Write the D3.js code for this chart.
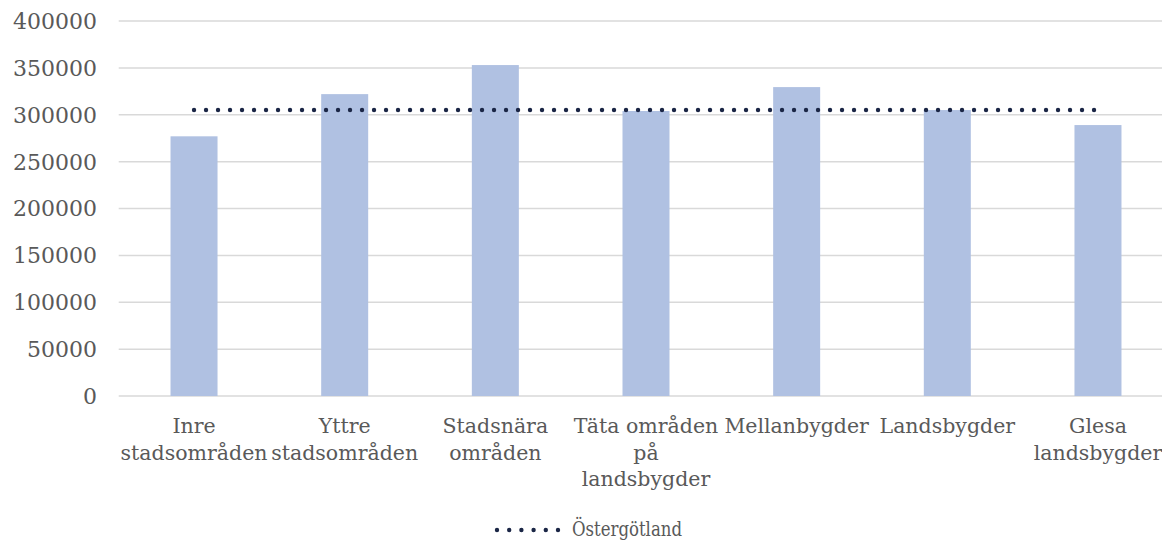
<!DOCTYPE html>
<html>
<head>
<meta charset="utf-8">
<script src="https://cdn.jsdelivr.net/npm/d3@7"></script>
<style>
  html, body { margin: 0; padding: 0; background: #fff; }
  svg { display: block; }
  text { font-family: "DejaVu Serif", serif; fill: #595959; }
  .legend-label { font-family: "DejaVu Serif Condensed", "DejaVu Serif", serif; font-stretch: condensed; }
</style>
</head>
<body>
<svg id="chart" width="1162" height="542"></svg>
<script>
// Categories (each entry is the list of wrapped label lines)
const categories = [
  ["Inre", "stadsområden"],
  ["Yttre", "stadsområden"],
  ["Stadsnära", "områden"],
  ["Täta områden", "på", "landsbygder"],
  ["Mellanbygder"],
  ["Landsbygder"],
  ["Glesa", "landsbygder"]
];
// Bar values per area type
const values = [277000, 322000, 353000, 304000, 329500, 305000, 289000];
// Regional reference level
const regionName = "Östergötland";
const regionValue = 305000;
// Y axis ticks
const yTicks = [0, 50000, 100000, 150000, 200000, 250000, 300000, 350000, 400000];

const svg = d3.select("#chart");
const plotLeft = 118.7, plotRight = 1173.3, plotTop = 21, plotBottom = 396;

const x = d3.scaleBand()
  .domain(d3.range(categories.length))
  .range([plotLeft, plotRight])
  .paddingInner(0.688)
  .paddingOuter(0.344);

const y = d3.scaleLinear().domain([0, 400000]).range([plotBottom, plotTop]);

// Gridlines
svg.append("g")
  .selectAll("line")
  .data(yTicks)
  .join("line")
  .attr("x1", plotLeft)
  .attr("x2", plotRight)
  .attr("y1", d => y(d))
  .attr("y2", d => y(d))
  .attr("stroke", "#d9d9d9")
  .attr("stroke-width", 1.5);

// Y tick labels
svg.append("g")
  .selectAll("text")
  .data(yTicks)
  .join("text")
  .attr("x", 97)
  .attr("y", d => y(d))
  .attr("dy", "0.36em")
  .attr("text-anchor", "end")
  .attr("font-size", 22)
  .text(d => d);

// Bars
svg.append("g")
  .selectAll("rect")
  .data(values)
  .join("rect")
  .attr("x", (d, i) => x(i))
  .attr("width", x.bandwidth())
  .attr("y", d => y(d))
  .attr("height", d => y(0) - y(d))
  .attr("fill", "#b0c1e2");

// Regional level as a dotted line across category centres
const xc = i => x(i) + x.bandwidth() / 2;
svg.append("line")
  .attr("x1", xc(0))
  .attr("x2", xc(categories.length - 1))
  .attr("y1", y(regionValue))
  .attr("y2", y(regionValue))
  .attr("stroke", "#1b2646")
  .attr("stroke-width", 4.4)
  .attr("stroke-linecap", "round")
  .attr("stroke-dasharray", "0 12");

// Category labels
const labels = svg.append("g")
  .selectAll("text")
  .data(categories)
  .join("text")
  .attr("text-anchor", "middle")
  .attr("font-size", 20.5)
  .attr("x", (d, i) => xc(i))
  .attr("y", 433);
labels.selectAll("tspan")
  .data(d => d)
  .join("tspan")
  .attr("x", function () { return d3.select(this.parentNode).attr("x"); })
  .attr("dy", (d, i) => i === 0 ? 0 : 26.5)
  .text(d => d);

// Legend
const legend = svg.append("g");
legend.append("line")
  .attr("x1", 497)
  .attr("x2", 558)
  .attr("y1", 530)
  .attr("y2", 530)
  .attr("stroke", "#1b2646")
  .attr("stroke-width", 4.4)
  .attr("stroke-linecap", "round")
  .attr("stroke-dasharray", "0 12.2");
legend.append("text")
  .attr("class", "legend-label")
  .attr("x", 572)
  .attr("y", 536)
  .attr("font-size", 19.5)
  .attr("textLength", 110)
  .attr("lengthAdjust", "spacingAndGlyphs")
  .text(regionName);
</script>
</body>
</html>
